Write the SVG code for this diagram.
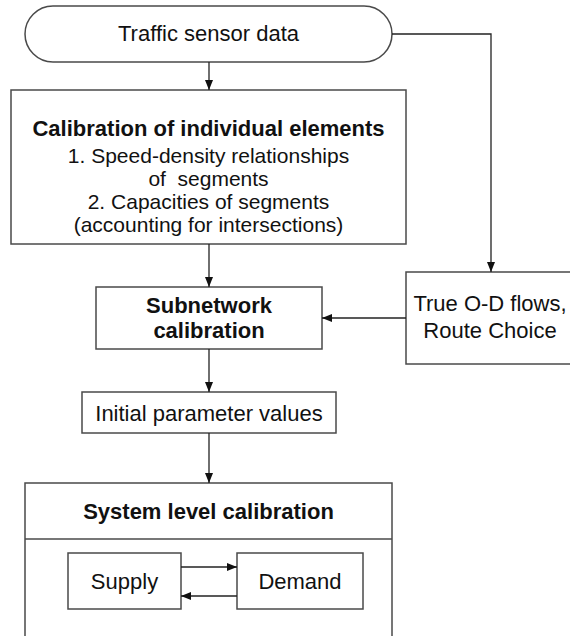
<svg xmlns="http://www.w3.org/2000/svg" width="570" height="636" viewBox="0 0 570 636">
<style>
.box{fill:#fff;stroke:#4a4a4a;stroke-width:1.5}
.t{font-family:"Liberation Sans",Arial,sans-serif;font-size:22px;fill:#111;text-anchor:middle}
.s{font-size:21px}
.b{font-weight:bold}
.c{fill:none;stroke:#222;stroke-width:1.3}
</style>
<defs>
<marker id="ah" markerUnits="userSpaceOnUse" markerWidth="10" markerHeight="8" refX="10" refY="4" orient="auto">
<path d="M0,0 L10,4 L0,8 z" fill="#111"/>
</marker>
</defs>
<rect width="570" height="636" fill="#fff"/>
<g id="traffic-sensor-data">
<rect class="box" x="25" y="6" width="367" height="56" rx="28" ry="28"/>
<text class="t" x="208.5" y="41">Traffic sensor data</text>
</g>
<g id="calibration-individual">
<rect class="box" x="11" y="90" width="395" height="154"/>
<text class="t b" x="208.5" y="136">Calibration of individual elements</text>
<text class="t s" x="208.5" y="162.5">1. Speed-density relationships</text>
<text class="t s" x="208.5" y="185.5">of&#160; segments</text>
<text class="t s" x="208.5" y="208.5">2. Capacities of segments</text>
<text class="t s" x="208.5" y="231.5">(accounting for intersections)</text>
</g>
<g id="subnetwork-calibration">
<rect class="box" x="96" y="287" width="226" height="62"/>
<text class="t b" x="209" y="312.5">Subnetwork</text>
<text class="t b" x="209" y="337.5">calibration</text>
</g>
<g id="true-od-flows">
<rect class="box" x="406" y="272" width="170" height="92"/>
<text class="t" x="490" y="311">True O-D flows,</text>
<text class="t" x="490" y="338">Route Choice</text>
</g>
<g id="initial-parameter-values">
<rect class="box" x="82" y="392" width="254" height="41"/>
<text class="t" x="209" y="421">Initial parameter values</text>
</g>
<g id="system-level-calibration">
<rect class="box" x="25" y="483" width="367" height="170"/>
<line class="box" x1="25" y1="539" x2="392" y2="539"/>
<text class="t b" x="208.5" y="519">System level calibration</text>
</g>
<g id="supply">
<rect class="box" x="68" y="553" width="113" height="56"/>
<text class="t" x="124.5" y="589">Supply</text>
</g>
<g id="demand">
<rect class="box" x="237" y="553" width="126" height="56"/>
<text class="t" x="300" y="589">Demand</text>
</g>
<g id="connectors">
<path class="c" d="M209,62 V90" marker-end="url(#ah)"/>
<path class="c" d="M392,34 H491 V272" marker-end="url(#ah)"/>
<path class="c" d="M209,244 V287" marker-end="url(#ah)"/>
<path class="c" d="M406,318 H322" marker-end="url(#ah)"/>
<path class="c" d="M209,349 V392" marker-end="url(#ah)"/>
<path class="c" d="M209,433 V483" marker-end="url(#ah)"/>
<path class="c" d="M181,567 H237" marker-end="url(#ah)"/>
<path class="c" d="M237,596 H181" marker-end="url(#ah)"/>
</g>
</svg>
